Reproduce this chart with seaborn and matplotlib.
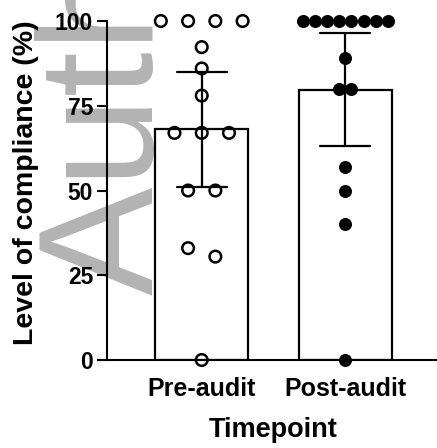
# 감사 전후 준수율 막대그래프 (평균 ± 95% CI, 개별 점 표시)

import matplotlib
matplotlib.use('Agg')
import matplotlib.pyplot as plt
import seaborn as sns
import numpy as np
import pandas as pd

# 데이터
categories = ['Pre-audit', 'Post-audit']
pre_values = [100, 100, 100, 100, 92.3, 86, 78, 67, 67, 67, 50, 50, 33, 30.5, 0]
post_values = [100, 100, 100, 100, 100, 100, 100, 100, 89, 80, 80, 57, 50, 40, 0]
y_ticks = [0, 25, 50, 75, 100]

df = pd.DataFrame({
    'Timepoint': ['Pre-audit'] * len(pre_values) + ['Post-audit'] * len(post_values),
    'Level': pre_values + post_values,
})

# 같은 구간의 점들을 좌우로 펼치기 (GraphPad 스타일)
df['bin'] = df['Level'] // 5
df['rank'] = df.groupby(['Timepoint', 'bin']).cumcount()
df['n'] = df.groupby(['Timepoint', 'bin'])['Level'].transform('size')
spread = df['Timepoint'].map({'Pre-audit': 0.19, 'Post-audit': 0.085})
center = df['Timepoint'].map({c: i for i, c in enumerate(categories)})
df['xpos'] = center + (df['rank'] - (df['n'] - 1) / 2) * spread

# 95% 신뢰구간 (t 분포, n=15)
T_CRIT = 2.145
def ci95(v):
    m = np.mean(v)
    h = T_CRIT * np.std(v, ddof=1) / np.sqrt(len(v))
    return m - h, m + h

sns.set_style('ticks')
plt.rcParams['font.family'] = ['Liberation Sans', 'DejaVu Sans']
plt.rcParams['text.color'] = 'black'
plt.rcParams['axes.labelcolor'] = 'black'

fig = plt.figure(figsize=(4.37, 4.48), dpi=100)
ax = fig.add_axes([0.2449, 0.1964, 0.7618, 0.7567])
ax.set_facecolor('none')

# 워터마크
fig.text(153 / 437, (448 - 295) / 448, 'Author Manuscript', rotation=90,
         rotation_mode='anchor', ha='left', va='baseline', fontsize=117,
         color='#b3b3b3', zorder=-1)

sns.barplot(data=df, x='Timepoint', y='Level', order=categories,
            errorbar=ci95, capsize=0.35, width=0.65,
            color='white', edgecolor='black', linewidth=1.6,
            err_kws={'color': 'black', 'linewidth': 1.6}, ax=ax)

pre = df[df['Timepoint'] == 'Pre-audit']
post = df[df['Timepoint'] == 'Post-audit']
sns.scatterplot(data=pre, x='xpos', y='Level', marker='o', s=70,
                color='black', facecolor='none', edgecolor='black',
                linewidth=1.8, clip_on=False, zorder=4, ax=ax)
sns.scatterplot(data=post, x='xpos', y='Level', marker='o', s=88,
                color='black', edgecolor='black', linewidth=0,
                clip_on=False, zorder=4, ax=ax)

ax.set_xlim(-0.66, 1.66)
ax.set_ylim(0, 100)
ax.set_yticks(y_ticks)
ax.set_xticks([0, 1])
ax.set_xticklabels(categories)

for side in ['top', 'right']:
    ax.spines[side].set_visible(False)
for side in ['left', 'bottom']:
    ax.spines[side].set_linewidth(1.5)
    ax.spines[side].set_color('black')

ax.tick_params(axis='y', length=7, width=1.5, pad=3, labelsize=16.5, colors='black')
ax.tick_params(axis='x', length=0, pad=12, labelsize=18, colors='black')
for lab in ax.get_xticklabels() + ax.get_yticklabels():
    lab.set_fontweight('bold')

ax.set_ylabel('Level of compliance (%)', fontsize=20.5, fontweight='bold', color='black')
ax.yaxis.set_label_coords(-0.204, 0.5236)
ax.set_xlabel('Timepoint', fontsize=19.5, fontweight='bold', labelpad=12, color='black')

fig.savefig('out.png', dpi=100, facecolor='white')
